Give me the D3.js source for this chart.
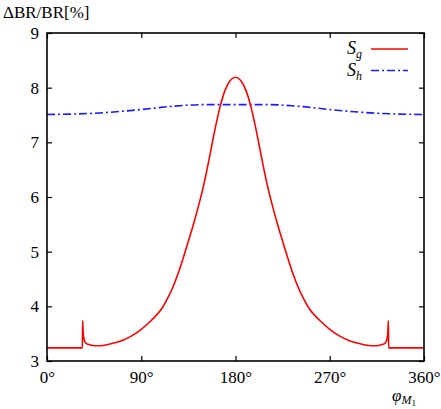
<!DOCTYPE html>
<html>
<head>
<meta charset="utf-8">
<script src="https://cdn.jsdelivr.net/npm/d3@7"></script>
<style>
  body { margin: 0; background: #fff; }
  svg text, svg tspan { font-family: 'Liberation Serif', 'Times New Roman', serif !important; }
</style>
</head>
<body>
<div id="graph"></div>
<script>
    // red curve S_g : angle (deg) and value (%)
    const sgPhi = [0, 10, 20, 30, 33.8, 34.0, 34.6, 35.5, 37, 40, 45, 50, 60, 70, 80, 90, 100, 110, 115, 120,
        125, 130, 135, 140, 145, 150, 155, 160, 165, 170, 175, 180,
        185, 190, 195, 200, 205, 210, 215, 220, 225, 230, 235, 240, 245, 250, 260, 270, 280, 290, 300,
        310, 315, 320, 323, 324.5, 325.4, 326.0, 326.2, 330, 340, 350, 360];
    const sgVal = [3.24, 3.24, 3.24, 3.24, 3.24, 3.74, 3.50, 3.39, 3.33, 3.30, 3.28, 3.28, 3.31, 3.36, 3.45, 3.58, 3.75, 3.97, 4.14, 4.34,
        4.59, 4.88, 5.19, 5.51, 5.86, 6.25, 6.71, 7.20, 7.63, 7.95, 8.13, 8.19,
        8.13, 7.95, 7.63, 7.20, 6.71, 6.25, 5.86, 5.51, 5.19, 4.88, 4.59, 4.34, 4.14, 3.97, 3.75, 3.58, 3.45, 3.36, 3.31,
        3.28, 3.28, 3.30, 3.33, 3.39, 3.50, 3.74, 3.24, 3.24, 3.24, 3.24, 3.24];

    // blue curve S_h
    const shPhi = [0, 30, 60, 90, 120, 150, 180, 210, 240, 270, 300, 330, 360];
    const shVal = [7.51, 7.52, 7.55, 7.60, 7.66, 7.69, 7.69, 7.69, 7.66, 7.60, 7.55, 7.52, 7.51];

    const xTicks = [0, 90, 180, 270, 360];
    const yTicks = [3, 4, 5, 6, 7, 8, 9];

    const w = 441;
    const h = 409;
    const mLeft = 47, mRight = 424, mTop = 33, mBottom = 361;
    const serif = "'Liberation Serif'";

    const svg = d3.select('#graph')
        .append('svg')
        .attr('width', w)
        .attr('height', h)
        .attr('font-family', 'Liberation Serif');

    const xScale = d3.scaleLinear().domain([0, 360]).range([mLeft, mRight]);
    const yScale = d3.scaleLinear().domain([3, 9]).range([mBottom, mTop]);

    const sg = sgPhi.map((p, i) => [p, sgVal[i]]);
    const sh = shPhi.map((p, i) => [p, shVal[i]]);

    const line = d3.line()
        .x(d => xScale(d[0]))
        .y(d => yScale(d[1]))
        .curve(d3.curveMonotoneX);

    svg.append('path')
        .datum(sh)
        .attr('d', line)
        .attr('fill', 'none')
        .attr('stroke', '#1a1aff')
        .attr('stroke-width', 1.6)
        .attr('stroke-dasharray', '8,3,2,3');

    svg.append('path')
        .datum(sg)
        .attr('d', line)
        .attr('fill', 'none')
        .attr('stroke', '#ff0000')
        .attr('stroke-width', 1.6);

    // axes, ticks inward and mirrored
    const tick = 5;
    const xAxisB = d3.axisBottom(xScale).tickValues(xTicks).tickSize(-tick).tickFormat(d => d + '°').tickPadding(10);
    const xAxisT = d3.axisTop(xScale).tickValues(xTicks).tickSize(-tick).tickFormat('');
    const yAxisL = d3.axisLeft(yScale).tickValues(yTicks).tickSize(-tick).tickFormat(d3.format('d')).tickPadding(8);
    const yAxisR = d3.axisRight(yScale).tickValues(yTicks).tickSize(-tick).tickFormat('');

    const gb = svg.append('g').attr('transform', 'translate(0,' + mBottom + ')').call(xAxisB);
    const gt = svg.append('g').attr('transform', 'translate(0,' + mTop + ')').call(xAxisT);
    const gl = svg.append('g').attr('transform', 'translate(' + mLeft + ',0)').call(yAxisL);
    const gr = svg.append('g').attr('transform', 'translate(' + mRight + ',0)').call(yAxisR);

    [gb, gt, gl, gr].forEach(g => {
        g.attr('font-family', 'Liberation Serif').attr('font-size', 17);
        g.select('.domain').remove();
        g.selectAll('line').attr('stroke', '#000').attr('stroke-width', 1.2);
        g.selectAll('text')
            .attr('fill', '#000')
            .attr('font-size', 17)
            .style('font-family', serif);
    });

    svg.append('rect')
        .attr('x', mLeft)
        .attr('y', mTop)
        .attr('width', mRight - mLeft)
        .attr('height', mBottom - mTop)
        .attr('fill', 'none')
        .attr('stroke', '#000')
        .attr('stroke-width', 1.6);

    // y label
    svg.append('text')
        .attr('x', 3)
        .attr('y', 18)
        .attr('font-size', 17)
        .style('font-family', serif)
        .text('ΔBR/BR[%]');

    // x label
    const xl = svg.append('text')
        .attr('x', 392)
        .attr('y', 401)
        .attr('font-size', 17)
        .style('font-family', serif);
    xl.append('tspan').attr('font-style', 'italic').text('φ');
    xl.append('tspan').attr('dy', 3).attr('font-size', 12).attr('font-style', 'italic').text('M');
    xl.append('tspan').attr('dy', 2).attr('font-size', 9).text('1');

    // legend
    const legend = [
        { name: 'g', color: '#ff0000', dash: null },
        { name: 'h', color: '#1a1aff', dash: '8,3,2,3' }
    ];
    const lg = svg.selectAll('.legend')
        .data(legend)
        .enter().append('g')
        .attr('class', 'legend')
        .attr('transform', (d, i) => 'translate(0,' + (49 + i * 21.5) + ')');

    lg.append('line')
        .attr('x1', 371)
        .attr('x2', 408)
        .attr('stroke', d => d.color)
        .attr('stroke-width', 1.6)
        .attr('stroke-dasharray', d => d.dash);

    const lt = lg.append('text')
        .attr('x', 347)
        .attr('y', 5)
        .attr('font-size', 18)
        .style('font-family', serif);
    lt.append('tspan').attr('font-style', 'italic').text('S');
    lt.append('tspan').attr('dy', 4).attr('font-size', 12).attr('font-style', 'italic').text(d => d.name);
</script>
</body>
</html>
